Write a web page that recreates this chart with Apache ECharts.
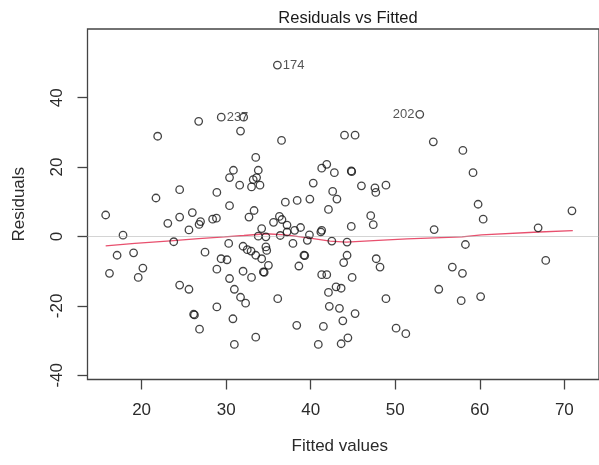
<!DOCTYPE html>
<html>
<head>
<meta charset="utf-8">
<script src="https://cdn.jsdelivr.net/npm/echarts@6/dist/echarts.min.js"></script>
<style>
html,body{margin:0;padding:0;background:#fff;}
#chart{width:599px;height:465px;}
</style>
</head>
<body>
<div id="chart"></div>
<script>
// Fitted values (x) and residuals (y)
const fittedValues = [
  26.75, 29.42, 31.7, 21.9, 30.86, 30.4, 31.6, 24.5, 28.9, 21.7, 30.4,
  15.75, 23.1, 24.5, 26.0, 26.97, 26.8, 25.6, 28.4, 28.85, 17.8, 23.8, 30.3,
  17.1, 19.05, 27.5, 29.4, 30.1, 16.2, 20.15, 19.6, 28.9, 30.4, 24.5, 25.6,
  30.97, 31.7, 28.9, 26.15, 26.25, 30.8, 26.85, 30.97,
  36.06, 32.07, 36.55, 44.0, 45.25, 33.5, 33.8, 33.2, 33.6, 33.0, 34.0,
  41.3, 41.9, 42.8, 44.8, 44.85, 40.3, 46.0, 47.6, 47.7, 48.9, 42.6, 43.1,
  37.0, 38.4, 39.9, 33.3, 42.1,
  32.7, 35.6, 36.3, 36.6, 37.2, 34.2, 33.8, 34.7, 36.4, 37.2, 38.1, 38.8,
  37.9, 39.6, 39.85, 41.2, 41.3, 42.5, 44.3, 44.8, 47.1, 47.4, 32.0, 32.5,
  32.95, 33.5, 34.2, 34.7, 34.8, 35.0, 34.4, 34.5, 32.0, 33.0, 39.2, 39.3,
  38.6, 41.3, 41.9, 44.3, 43.9, 44.9, 32.3, 36.1, 42.1, 43.0, 43.6, 42.2,
  43.4, 45.25, 48.9, 38.35, 41.5, 43.8, 33.5, 40.9, 43.6, 44.4, 50.1, 51.25,
  47.75, 48.2,
  52.9, 54.5, 58.0, 59.2, 59.8, 60.4, 54.6, 66.9, 70.9, 58.3, 67.8, 56.75,
  57.95, 55.15, 60.1, 57.8
];
const residuals = [
  33.2, 34.4, 30.4, 28.9, 19.1, 17.0, 14.8, 13.5, 12.7, 11.1, 8.9,
  6.2, 3.8, 5.6, 6.9, 4.3, 3.5, 1.9, 5.0, 5.3, 0.4, -1.5, -2.0,
  -5.4, -4.7, -4.5, -6.4, -6.7, -10.6, -9.1, -11.8, -9.4, -12.1, -14.0, -15.2,
  -15.2, -17.5, -20.3, -22.4, -22.6, -23.7, -26.7, -31.1,
  49.4, 34.4, 27.7, 29.2, 29.2, 22.8, 19.1, 16.4, 17.0, 14.3, 14.8,
  19.7, 20.8, 18.4, 18.9, 18.7, 15.4, 14.6, 14.0, 12.7, 14.8, 13.0, 10.8,
  9.9, 10.4, 10.8, 7.5, 7.8,
  5.6, 4.1, 5.8, 4.9, 3.3, 2.3, 0.1, -0.1, 0.3, 1.3, 1.8, 2.6,
  -2.0, -1.1, 0.5, 1.3, 1.8, -1.3, -1.6, 2.9, 6.0, 3.4, -2.8, -3.8,
  -4.2, -5.4, -6.4, -3.0, -4.0, -8.3, -10.2, -10.3, -10.0, -11.8, -5.4, -5.5,
  -8.5, -11.0, -11.0, -5.4, -7.5, -11.8, -19.2, -17.9, -16.1, -14.5, -14.9, -20.1,
  -20.7, -22.2, -17.9, -25.6, -25.9, -24.3, -29.0, -31.1, -30.9, -29.2, -26.4, -28.0,
  -6.4, -8.8,
  35.2, 27.3, 24.8, 18.4, 9.3, 5.0, 2.0, 2.5, 7.4, -2.3, -6.9, -8.8,
  -10.6, -15.2, -17.3, -18.5
];
// Labelled observations: index into the arrays above, and the label
const labelIndex = [43, 1, 133];
const labelText = ["174", "237", "202"];
const labelSide = ["right", "right", "left"];

// Smoother (lowess) curve
const smoothX = [15.75, 19.2, 23.0, 26.75, 29.8, 32.1, 34.7, 37.0, 39.7, 42.3, 44.2, 48.0, 51.4, 57.9, 60.2, 67.0, 71.0];
const smoothY = [-2.7, -2.0, -1.3, -0.6, -0.1, 0.3, 0.8, 0.5, -0.4, -1.3, -1.6, -1.1, -0.7, -0.1, 0.5, 1.3, 1.7];

const xTicks = [20, 30, 40, 50, 60, 70];
const yTicks = [-40, -20, 0, 20, 40];

const ink = '#2b2b2b';
const fam = '"Liberation Sans", Arial, sans-serif';
const points = fittedValues.map(function (x, i) {
  const item = { value: [x, residuals[i]] };
  const k = labelIndex.indexOf(i);
  if (k >= 0) {
    item.label = {
      show: true, formatter: labelText[k], position: labelSide[k],
      distance: 1, color: ink, fontSize: 13, fontFamily: fam
    };
  }
  return item;
});

const chart = echarts.init(document.getElementById('chart'), null, { renderer: 'canvas' });
chart.setOption({
  animation: false,
  backgroundColor: '#ffffff',
  title: {
    text: 'Residuals vs Fitted',
    left: 343, top: 5, textAlign: 'center',
    textStyle: { fontSize: 16.5, fontWeight: 'normal', color: '#1a1a1a', fontFamily: fam }
  },
  grid: {
    left: 87.5, top: 29, right: -20, bottom: 85.5,
    show: true, borderColor: '#444', borderWidth: 1.3, backgroundColor: 'transparent'
  },
  xAxis: {
    type: 'value', min: 13.6, max: 74.1,
    name: 'Fitted values', nameLocation: 'middle', nameGap: 58,
    nameTextStyle: { fontSize: 17, color: ink, fontFamily: fam, padding: [0, 7, 0, 0] },
    axisLine: { show: false, onZero: false },
    splitLine: { show: false },
    axisTick: { show: true, length: 10, customValues: xTicks, lineStyle: { color: '#444', width: 1.3 } },
    axisLabel: { customValues: xTicks, margin: 22, fontSize: 17, color: ink, fontFamily: fam }
  },
  yAxis: {
    type: 'value', min: -41.2, max: 59.8,
    name: 'Residuals', nameLocation: 'middle', nameGap: 60, nameRotate: 90,
    nameTextStyle: { fontSize: 17, color: ink, fontFamily: fam },
    axisLine: { show: false, onZero: false },
    splitLine: { show: false },
    axisTick: { show: true, length: 10, customValues: yTicks, lineStyle: { color: '#444', width: 1.3 } },
    axisLabel: { customValues: yTicks, rotate: 90, margin: 22, fontSize: 17, color: ink, fontFamily: fam }
  },
  series: [
    {
      type: 'scatter',
      data: points,
      symbol: 'circle', symbolSize: 7.5,
      itemStyle: { color: 'rgba(0,0,0,0)', borderColor: '#151515', borderWidth: 1.3 },
      markLine: {
        silent: true, symbol: 'none', label: { show: false },
        lineStyle: { color: '#a8a8a8', type: 'dotted', width: 1 },
        data: [{ yAxis: 0 }]
      },
      z: 3
    },
    {
      type: 'line',
      data: smoothX.map(function (x, i) { return [x, smoothY[i]]; }),
      showSymbol: false, symbol: 'none',
      lineStyle: { color: '#e8506e', width: 1.3 },
      z: 2
    }
  ]
});
</script>
</body>
</html>
